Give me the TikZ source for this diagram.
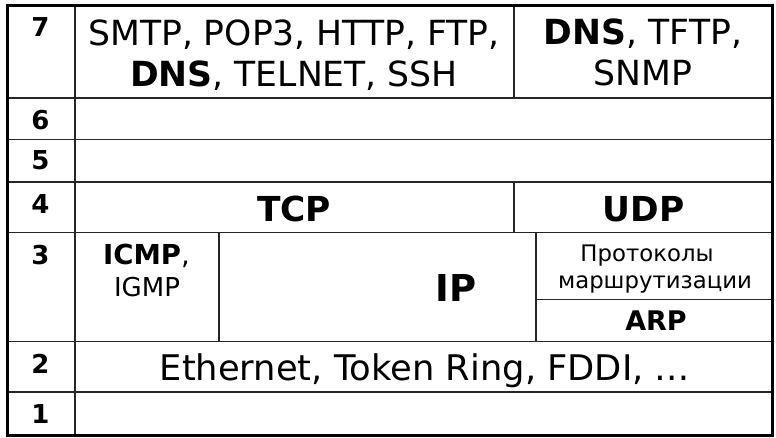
\documentclass[tikz,border=0pt]{standalone}
\usepackage{fontspec}
\setmainfont{DejaVu Sans}
\begin{document}
\begin{tikzpicture}[x=1pt,y=-1pt,
  grid/.style={line width=1.3pt,draw=black!85},
  frame/.style={line width=3pt,draw=black},
  txt/.style={anchor=base,inner sep=0pt,outer sep=0pt,text=black},
  num/.style={txt,font=\fontsize{26}{30}\selectfont\bfseries},
  big/.style={txt,font=\fontsize{34.6}{40}\selectfont},
  bigb/.style={txt,font=\fontsize{34.4}{40}\selectfont\bfseries},
  mid/.style={txt,font=\fontsize{26}{30}\selectfont},
  small/.style={txt,font=\fontsize{22.8}{26}\selectfont}]
\useasboundingbox (0,0) rectangle (776,437);
\fill[white] (0,0) rectangle (776,437);
% grid lines
\draw[grid] (75,5) -- (75,435);
\draw[grid] (7,98) -- (772,98);
\draw[grid] (7,139.5) -- (772,139.5);
\draw[grid] (7,182) -- (772,182);
\draw[grid] (7,232.5) -- (772,232.5);
\draw[grid] (7,341.5) -- (772,341.5);
\draw[grid] (7,392) -- (772,392);
\draw[grid] (514,5) -- (514,98);
\draw[grid] (514,182) -- (514,232.5);
\draw[grid] (219,232.5) -- (219,341.5);
\draw[grid] (536,232.5) -- (536,341.5);
\draw[grid] (536,299.5) -- (772,299.5);
\draw[frame] (7,5) rectangle (772,435);
% layer numbers
\node[num] (n7) at (40.5,36.7) {7};
\node[num] (n6) at (40.5,129.3) {6};
\node[num] (n5) at (40.5,169.3) {5};
\node[num] (n4) at (40.5,213.3) {4};
\node[num] (n3) at (40.5,264.3) {3};
\node[num] (n2) at (40.5,373.3) {2};
\node[num] (n1) at (40.5,423.3) {1};
% layer 7
\node[big] (a1) at (294,45) {SMTP, POP3, HTTP, FTP,};
\node[big] (a2) at (294,86) {\textbf{DNS}, TELNET, SSH};
\node[big] (b1) at (643,44.5) {\textbf{DNS}, TFTP,};
\node[big] (b2) at (643,85) {SNMP};
% layer 4
\node[bigb] (tcp) at (294,221) {TCP};
\node[bigb] (udp) at (643.5,221.5) {UDP};
% layer 3
\node[txt,font=\fontsize{27.5}{30}\selectfont] (icmp) at (146.5,264.3) {\textbf{ICMP},};
\node[mid] (igmp) at (147,296) {IGMP};
\node[txt,font=\fontsize{37}{40}\selectfont\bfseries] (ip) at (456,301) {IP};
\node[small] (r1) at (647,261.7) {Протоколы};
\node[small] (r2) at (655,288.3) {маршрутизации};
\node[txt,font=\fontsize{27}{30}\selectfont\bfseries] (arp) at (656,330) {ARP};
% layer 2
\node[big,font=\fontsize{35.3}{40}\selectfont] (eth) at (425,380.7) {Ethernet, Token Ring, FDDI, …};
\end{tikzpicture}
\end{document}
